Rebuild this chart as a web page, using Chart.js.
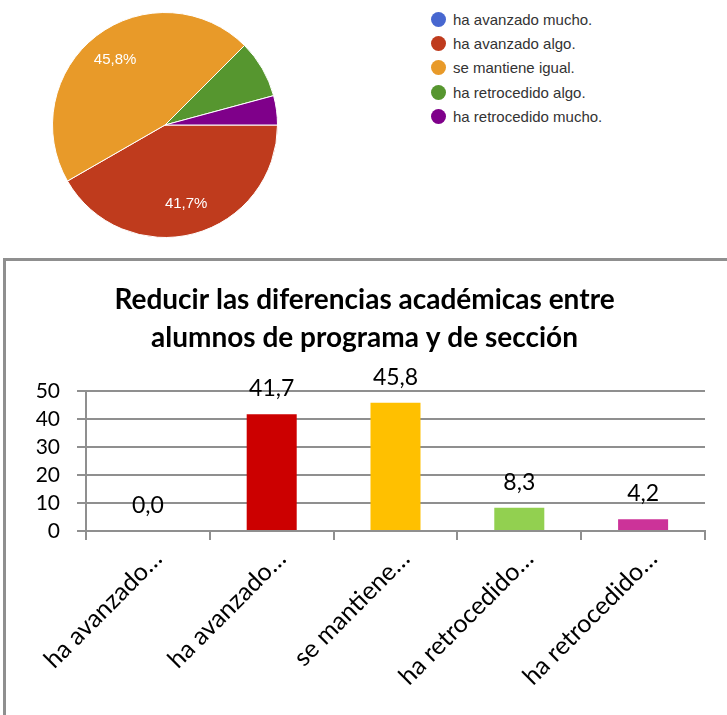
<!DOCTYPE html>
<html><head><meta charset="utf-8">
<script src="https://cdn.jsdelivr.net/npm/chart.js@4/dist/chart.umd.min.js"></script>
<style>
html,body{margin:0;padding:0;background:#fff;width:727px;height:715px;overflow:hidden;}
#pieWrap{position:absolute;left:0;top:0;width:330px;height:250px;}
#legend{position:absolute;left:431px;top:7px;font-family:"Liberation Sans",Arial,sans-serif;font-size:15px;color:#333;}
#legend .item{display:flex;align-items:center;height:24.3px;white-space:nowrap;}
#legend .dot{width:15px;height:15px;border-radius:50%;margin-right:7px;flex:none;}
#barWrap{position:absolute;left:3px;top:258px;width:724px;height:457px;border-left:3px solid #8f8f8f;border-top:3px solid #8f8f8f;}
canvas{display:block;}
</style>
</head><body>
<div id="pieWrap"><canvas id="pie" width="330" height="250"></canvas></div>
<div id="legend"></div>
<div id="barWrap"><canvas id="bar" width="721" height="454"></canvas></div>
<script>
// ---- data ----
const pieLabels = ['ha avanzado mucho.', 'ha avanzado algo.', 'se mantiene igual.', 'ha retrocedido algo.', 'ha retrocedido mucho.'];
const pieValues = [0, 41.7, 45.8, 8.3, 4.2];
const pieColors = ['#4767d0', '#bf3b1d', '#e89a29', '#56962f', '#7f008a'];

const chartTitle = ['Reducir las diferencias académicas entre', 'alumnos de programa y de sección'];
const barLabels = ['ha avanzado…', 'ha avanzado…', 'se mantiene…', 'ha retrocedido…', 'ha retrocedido…'];
const barValues = [0.0, 41.7, 45.8, 8.3, 4.2];
const barColors = ['#4472c4', '#cc0000', '#ffc000', '#92d050', '#cc3399'];
const yMin = 0, yMax = 50, yStep = 10;

const fmt = v => v.toFixed(1).replace('.', ',');

// ---- pie slice labels ----
const sliceLabels = {
  id: 'sliceLabels',
  afterDatasetsDraw(chart) {
    const ctx = chart.ctx;
    const meta = chart.getDatasetMeta(0);
    const data = chart.data.datasets[0].data;
    const total = data.reduce((a, b) => a + b, 0);
    ctx.save();
    ctx.fillStyle = '#ffffff';
    ctx.font = '15px "Liberation Sans", Arial, sans-serif';
    ctx.textAlign = 'center';
    ctx.textBaseline = 'middle';
    meta.data.forEach((arc, i) => {
      const pct = data[i] / total * 100;
      if (pct < 10) return;
      const p = arc.getProps(['x', 'y', 'startAngle', 'endAngle', 'outerRadius'], true);
      const a = (p.startAngle + p.endAngle) / 2;
      const r = p.outerRadius * 0.73;
      ctx.fillText(fmt(pct) + '%', p.x + Math.cos(a) * r, p.y + Math.sin(a) * r);
    });
    ctx.restore();
  }
};

const htmlLegend = {
  id: 'htmlLegend',
  afterUpdate(chart) {
    const box = document.getElementById('legend');
    box.innerHTML = '';
    const items = chart.options.plugins.legend.labels.generateLabels(chart);
    items.forEach(it => {
      const row = document.createElement('div');
      row.className = 'item';
      const dot = document.createElement('span');
      dot.className = 'dot';
      dot.style.background = it.fillStyle;
      const txt = document.createElement('span');
      txt.textContent = it.text;
      row.appendChild(dot); row.appendChild(txt);
      box.appendChild(row);
    });
  }
};

new Chart(document.getElementById('pie'), {
  type: 'pie',
  data: { labels: pieLabels, datasets: [{ data: pieValues, backgroundColor: pieColors, borderColor: '#ffffff', borderWidth: 1 }] },
  options: {
    responsive: false, animation: false, rotation: 90,
    layout: { padding: { top: 12, bottom: 12, left: 0, right: 0 } },
    plugins: { legend: { display: false }, tooltip: { enabled: false } }
  },
  plugins: [sliceLabels, htmlLegend]
});

// ---- bar value labels ----
const valueLabels = {
  id: 'valueLabels',
  afterDatasetsDraw(chart) {
    const ctx = chart.ctx;
    const meta = chart.getDatasetMeta(0);
    const data = chart.data.datasets[0].data;
    ctx.save();
    ctx.fillStyle = '#000000';
    ctx.font = '23px Lato';
    ctx.textAlign = 'center';
    ctx.textBaseline = 'alphabetic';
    meta.data.forEach((bar, i) => {
      ctx.fillText(fmt(data[i]), bar.x, bar.y - 18);
    });
    ctx.restore();
  }
};

const gridGray = '#8f8f8f';
new Chart(document.getElementById('bar'), {
  type: 'bar',
  data: { labels: barLabels, datasets: [{ data: barValues, backgroundColor: barColors, categoryPercentage: 1, barPercentage: 0.404 }] },
  options: {
    responsive: false, animation: false,
    layout: { padding: { left: 18, right: 22, top: 0, bottom: 0 } },
    plugins: {
      legend: { display: false }, tooltip: { enabled: false },
      title: { display: true, text: chartTitle, color: '#000000',
        font: { family: 'Lato', size: 28, weight: 'bold', lineHeight: 1.357 },
        padding: { top: 20, bottom: 34 } }
    },
    scales: {
      x: {
        grid: { display: true, offset: true, drawOnChartArea: false, drawTicks: true, tickLength: 9, color: gridGray, lineWidth: 2 },
        border: { display: true, color: gridGray, width: 2 },
        ticks: { autoSkip: false, minRotation: 45, maxRotation: 45, color: '#000000', font: { family: 'Lato', size: 25 }, padding: 4, labelOffset: 10 },
        afterFit: s => { s.height = 184; }
      },
      y: {
        min: yMin, max: yMax,
        grid: { color: gridGray, lineWidth: 2, tickLength: 9 },
        border: { display: true, color: gridGray, width: 2 },
        ticks: { stepSize: yStep, autoSkip: false, color: '#000000', font: { family: 'Lato', size: 21 }, padding: 17 },
        afterFit: s => { s.width = 62; }
      }
    }
  },
  plugins: [valueLabels]
});
</script>
</body></html>
